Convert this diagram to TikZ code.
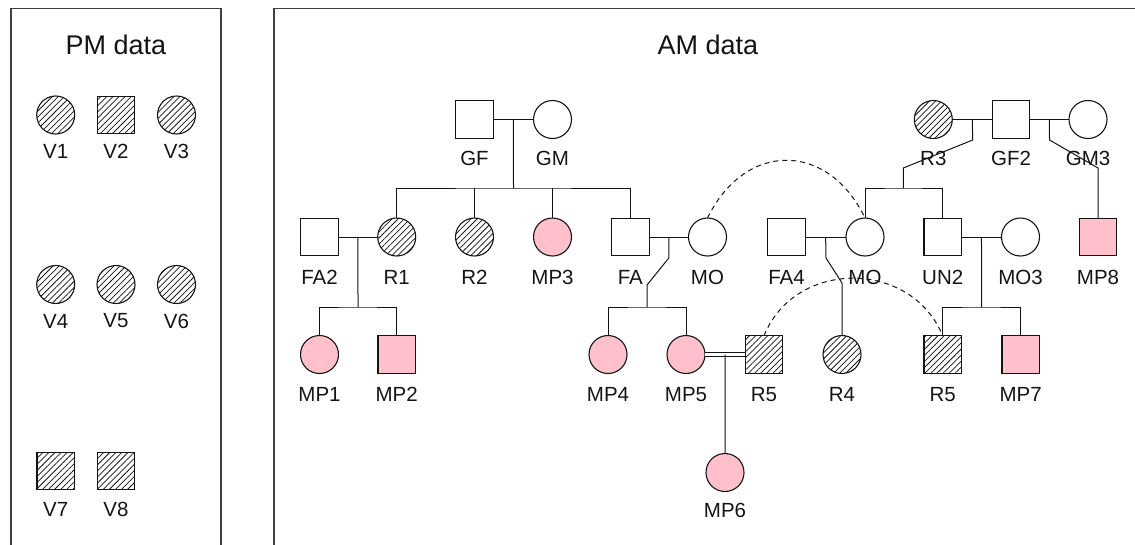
\documentclass[tikz,border=0pt]{standalone}
\usepackage{fontspec}
\setmainfont{Liberation Sans}
\usetikzlibrary{patterns.meta,calc}
\definecolor{affpink}{RGB}{255,192,203}
\definecolor{inkc}{RGB}{20,20,20}
\begin{document}
\begin{tikzpicture}[x=1pt,y=-1pt,
  every node/.style={inner sep=0pt,outer sep=0pt},
  line/.style={line width=1pt,draw=inkc},
  ml/.style={rectangle,draw=inkc,line width=1.1pt,minimum size=37.5pt},
  fe/.style={circle,draw=inkc,line width=1.1pt,minimum size=38pt},
  aff/.style={fill=affpink},
  hat/.style={pattern={Lines[angle=45,distance=4.3pt,line width=0.75pt]},pattern color=inkc},
  lbl/.style={font=\fontsize{20.5}{20.5}\selectfont,text=inkc},
  ttl/.style={font=\fontsize{27}{27}\selectfont,text=inkc},
  frame/.style={line width=1.2pt,draw=black!75},
  dsh/.style={line width=1pt,draw=inkc,dash pattern=on 5pt off 4pt}
]
\useasboundingbox (0,0) rectangle (1135,544);
% frames
\draw[frame] (11,560) -- (11,8.5) -- (221,8.5) -- (221,560);
\draw[frame] (274,560) -- (274,8.5) -- (1150,8.5);
\node[ttl] (pmt) at (116,45) {PM data};
\node[ttl] (amt) at (708,45) {AM data};

% PM data
\node[fe,hat] (V1) at (55.7,115) {};
\node[ml,hat] (V2) at (116,115) {};
\node[fe,hat] (V3) at (176.5,115) {};
\node[fe,hat] (V4) at (55.7,284.5) {};
\node[fe,hat] (V5) at (116,284.5) {};
\node[fe,hat] (V6) at (176.5,284.5) {};
\node[ml,hat] (V7) at (55.7,471) {};
\node[ml,hat] (V8) at (116,471) {};
\node[lbl] (V1l) at (55.7,151) {V1};
\node[lbl] (V2l) at (116,151) {V2};
\node[lbl] (V3l) at (176.5,151) {V3};
\node[lbl] (V4l) at (55.7,321) {V4};
\node[lbl] (V5l) at (116,321) {V5};
\node[lbl] (V6l) at (176.5,321) {V6};
\node[lbl] (V7l) at (55.7,509) {V7};
\node[lbl] (V8l) at (116,509) {V8};

% AM data: row 1
\node[ml] (GF) at (474.5,119.5) {};
\node[fe] (GM) at (552.5,119.5) {};
\node[fe,hat] (R3) at (933.3,119.5) {};
\node[ml] (GF2) at (1011,119.5) {};
\node[fe] (GM3) at (1088,119.5) {};
% row 2
\node[ml] (FA2) at (319.5,237) {};
\node[fe,hat] (R1) at (396.7,237) {};
\node[fe,hat] (R2) at (474.5,237) {};
\node[fe,aff] (MP3) at (552.5,237) {};
\node[ml] (FA) at (630.3,237) {};
\node[fe] (MO) at (707.5,237) {};
\node[ml] (FA4) at (786.5,237) {};
\node[fe] (MO2) at (865,237) {};
\node[ml] (UN2) at (942.7,237) {};
\node[fe] (MO3) at (1020.5,237) {};
\node[ml,aff] (MP8) at (1098,237) {};
% row 3
\node[fe,aff] (MP1) at (319.5,354.5) {};
\node[ml,aff] (MP2) at (396.7,354.5) {};
\node[fe,aff] (MP4) at (608,354.5) {};
\node[fe,aff] (MP5) at (686,354.5) {};
\node[ml,hat] (R5) at (764,354.5) {};
\node[fe,hat] (R4) at (842,354.5) {};
\node[ml,hat] (R5b) at (942.7,354.5) {};
\node[ml,aff] (MP7) at (1020.7,354.5) {};
% row 4
\node[fe,aff] (MP6) at (725,472.5) {};

% labels
\node[lbl] (GFl) at (474.5,158) {GF};
\node[lbl] (GMl) at (552.5,158) {GM};
\node[lbl] (GF2l) at (1011,158) {GF2};
\node[lbl] (FA2l) at (319.5,277) {FA2};
\node[lbl] (R1l) at (396.7,277) {R1};
\node[lbl] (R2l) at (474.5,277) {R2};
\node[lbl] (MP3l) at (552.5,277) {MP3};
\node[lbl] (FAl) at (630.3,277) {FA};
\node[lbl] (MOl) at (707.5,277) {MO};
\node[lbl] (FA4l) at (786.5,277) {FA4};
\node[lbl] (UN2l) at (942.7,277) {UN2};
\node[lbl] (MO3l) at (1020.5,277) {MO3};
\node[lbl] (MP8l) at (1098,277) {MP8};
\node[lbl] (MP1l) at (319.5,394.5) {MP1};
\node[lbl] (MP2l) at (396.7,394.5) {MP2};
\node[lbl] (MP4l) at (608,394.5) {MP4};
\node[lbl] (MP5l) at (686,394.5) {MP5};
\node[lbl] (R5l) at (764,394.5) {R5};
\node[lbl] (R4l) at (842,394.5) {R4};
\node[lbl] (R5bl) at (942.7,394.5) {R5};
\node[lbl] (MP7l) at (1020.7,394.5) {MP7};
\node[lbl] (MP6l) at (725,510) {MP6};

% GF-GM family
\draw[line] (GF) -- (GM);
\coordinate (m1) at ($(GF.east)!0.5!(GM.west)$);
\coordinate (s1) at (513.5,188);
\draw[line] (m1) -- (s1);
\draw[line] (R1.north) |- (s1) -| (FA.north);
\draw[line] (R2.north) -- (R2.north |- s1);
\draw[line] (MP3.north) -- (MP3.north |- s1);

% FA2-R1 family
\draw[line] (FA2) -- (R1);
\coordinate (m2) at ($(FA2.east)!0.5!(R1.west)$);
\coordinate (s2) at (358,307);
\draw[line] (m2) -- (s2);
\draw[line] (MP1.north) |- (s2) -| (MP2.north);

% FA-MO family
\draw[line] (FA) -- (MO);
\coordinate (m3) at ($(FA.east)!0.5!(MO.west)$);
\coordinate (k3a) at (668.8,258);
\coordinate (k3b) at (647,285);
\coordinate (s3) at (647,307);
\draw[line] (m3) -- (k3a) -- (k3b) -- (s3);
\draw[line] (MP4.north) |- (s3) -| (MP5.north);

% MP5 = R5
\draw[line,double=white,double distance=2.4pt] (MP5) -- (R5);
\coordinate (m5) at ($(MP5.east)!0.5!(R5.west)$);
\draw[line] (m5) -- (MP6.north);

% FA4-MO2
\draw[line] (FA4) -- (MO2);
\coordinate (m4) at ($(FA4.east)!0.5!(MO2.west)$);
\coordinate (k4a) at (826,258);
\coordinate (k4b) at (842,283);
\draw[line] (m4) -- (k4a) -- (k4b) -- (R4.north);

% R3-GF2 family
\draw[line] (R3) -- (GF2);
\coordinate (m6) at ($(R3.east)!0.5!(GF2.west)$);
\coordinate (k6a) at (972.7,140);
\coordinate (k6b) at (903.3,168);
\coordinate (s6) at (903.3,188);
\draw[line] (m6) -- (k6a) -- (k6b) -- (s6);
\draw[line] (MO2.north) |- (s6) -| (UN2.north);

% GF2-GM3
\draw[line] (GF2) -- (GM3);
\coordinate (m7) at ($(GF2.east)!0.5!(GM3.west)$);
\coordinate (k7a) at (1049.5,140);
\coordinate (k7b) at (1098,168);
\draw[line] (m7) -- (k7a) -- (k7b) -- (MP8.north);

% UN2-MO3 family
\draw[line] (UN2) -- (MO3);
\coordinate (m8) at ($(UN2.east)!0.5!(MO3.west)$);
\coordinate (s8) at (981.6,307);
\draw[line] (m8) -- (s8);
\draw[line] (R5b.north) |- (s8) -| (MP7.north);

% dashed identity links
\draw[dsh] (MO.north) .. controls (745,141) and (828,141) .. (MO2.north);
\draw[dsh] (R5.north) .. controls (795,259) and (911,259) .. (R5b.north);

% labels drawn over connectors in the reference
\node[lbl] (R3l) at (933.3,158) {R3};
\node[lbl] (GM3l) at (1088,158) {GM3};
\node[lbl] (MO2l) at (865,277) {MO};
\end{tikzpicture}
\end{document}
